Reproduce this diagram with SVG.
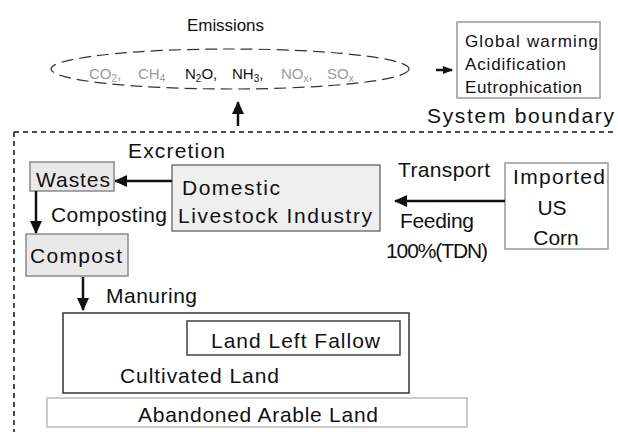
<svg xmlns="http://www.w3.org/2000/svg" width="618" height="432" viewBox="0 0 618 432">
<style>
text{font-family:"Liberation Sans",Arial,sans-serif;fill:#111;}
.t{font-size:21px;}
.s{font-size:17px;}
.g{font-size:15px;}
.gr{fill:#9a9a9a;}
.box{fill:#e9e9e9;stroke:#8a8a8a;stroke-width:1.5;}
.wbox{fill:#fff;stroke:#999;stroke-width:1.5;}
.con{stroke:#111;stroke-width:2.5;fill:none;}
</style>
<defs>
<marker id="ah" markerUnits="userSpaceOnUse" markerWidth="14" markerHeight="12" refX="12" refY="6" orient="auto">
<path d="M0,0 L13,6 L0,12 Z" fill="#111"/>
</marker>
<marker id="ahs" markerUnits="userSpaceOnUse" markerWidth="10" markerHeight="8" refX="9" refY="4" orient="auto">
<path d="M0,0 L10,4 L0,8 Z" fill="#111"/>
</marker>
</defs>

<g id="boundary">
<path d="M14,132 H616 M14,132 V432" fill="none" stroke="#111" stroke-width="1.5" stroke-dasharray="5 4"/>
<text class="t" x="427" y="123" font-size="22" textLength="187" lengthAdjust="spacing">System boundary</text>
</g>

<g id="emissions">
<text class="s" x="187" y="31" textLength="77" lengthAdjust="spacing">Emissions</text>
<ellipse cx="230" cy="69" rx="179" ry="20" fill="none" stroke="#333" stroke-width="1.2" stroke-dasharray="12 6"/>
<text class="g gr" x="89" y="79">CO<tspan font-size="10" dy="3">2</tspan><tspan dy="-3">,</tspan></text>
<text class="g gr" x="138" y="79">CH<tspan font-size="10" dy="3">4</tspan></text>
<text class="g" x="185" y="79">N<tspan font-size="10" dy="3">2</tspan><tspan dy="-3">O,</tspan></text>
<text class="g" x="232" y="79">NH<tspan font-size="10" dy="3">3</tspan><tspan dy="-3">,</tspan></text>
<text class="g gr" x="281" y="79">NO<tspan font-size="10" dy="3">x</tspan><tspan dy="-3">,</tspan></text>
<text class="g gr" x="327" y="79">SO<tspan font-size="10" dy="3">x</tspan></text>
</g>

<g id="impacts">
<rect class="wbox" x="457" y="22" width="143" height="76"/>
<text class="s" x="465" y="47" textLength="133" lengthAdjust="spacing">Global warming</text>
<text class="s" x="465" y="70" textLength="101" lengthAdjust="spacing">Acidification</text>
<text class="s" x="465" y="93" textLength="117" lengthAdjust="spacing">Eutrophication</text>
</g>

<g id="wastes">
<rect class="box" x="30" y="162" width="84" height="29"/>
<text class="t" x="36" y="187" textLength="74" lengthAdjust="spacing">Wastes</text>
</g>

<g id="domestic">
<rect x="172" y="165" width="208" height="66" fill="#efefef" stroke="#555" stroke-width="1.2"/>
<text class="t" x="182" y="195" textLength="98" lengthAdjust="spacing">Domestic</text>
<text class="t" x="178" y="223" textLength="194" lengthAdjust="spacing">Livestock Industry</text>
</g>

<g id="compost">
<rect class="box" x="26" y="234" width="102" height="42"/>
<text class="t" x="30" y="263" textLength="92" lengthAdjust="spacing">Compost</text>
</g>

<g id="imported">
<rect class="wbox" x="505" y="163" width="103" height="86"/>
<text class="t" x="559" y="184" text-anchor="middle" textLength="92" lengthAdjust="spacing">Imported</text>
<text class="t" x="552" y="215" text-anchor="middle">US</text>
<text class="t" x="556" y="245" text-anchor="middle">Corn</text>
</g>

<g id="cultivated">
<rect x="63" y="313" width="346" height="80" fill="none" stroke="#333" stroke-width="1.5"/>
<text class="t" x="120" y="383" textLength="159" lengthAdjust="spacing">Cultivated Land</text>
</g>

<g id="fallow">
<rect x="187" y="321" width="213" height="34" fill="#fff" stroke="#444" stroke-width="1.5"/>
<text class="t" x="211" y="348" textLength="169" lengthAdjust="spacing">Land Left Fallow</text>
</g>

<g id="abandoned">
<rect x="47" y="398" width="420" height="29" fill="#fff" stroke="#bbb" stroke-width="1.5"/>
<text class="t" x="138" y="422" textLength="240" lengthAdjust="spacing">Abandoned Arable Land</text>
</g>

<g id="connectors">
<line class="con" x1="238" y1="126" x2="238" y2="102" marker-end="url(#ah)"/>
<line class="con" x1="436" y1="70" x2="452" y2="70" stroke-width="2" marker-end="url(#ahs)"/>
<line class="con" x1="172" y1="181" x2="115" y2="181" marker-end="url(#ah)"/>
<line class="con" x1="36" y1="191" x2="36" y2="233" marker-end="url(#ah)"/>
<line class="con" x1="505" y1="201" x2="395" y2="201" stroke="#555" stroke-width="3" marker-end="url(#ah)"/>
<line class="con" x1="83" y1="277" x2="83" y2="310" marker-end="url(#ah)"/>
<text class="t" x="128" y="158" textLength="97" lengthAdjust="spacing">Excretion</text>
<text class="t" x="51" y="222" textLength="116" lengthAdjust="spacing">Composting</text>
<text class="t" x="398" y="177" textLength="92" lengthAdjust="spacing">Transport</text>
<text class="t" x="400" y="228" textLength="74" lengthAdjust="spacing">Feeding</text>
<text class="t" x="386" y="258" textLength="102" lengthAdjust="spacing">100%(TDN)</text>
<text class="t" x="106" y="303" textLength="91" lengthAdjust="spacing">Manuring</text>
</g>
</svg>
